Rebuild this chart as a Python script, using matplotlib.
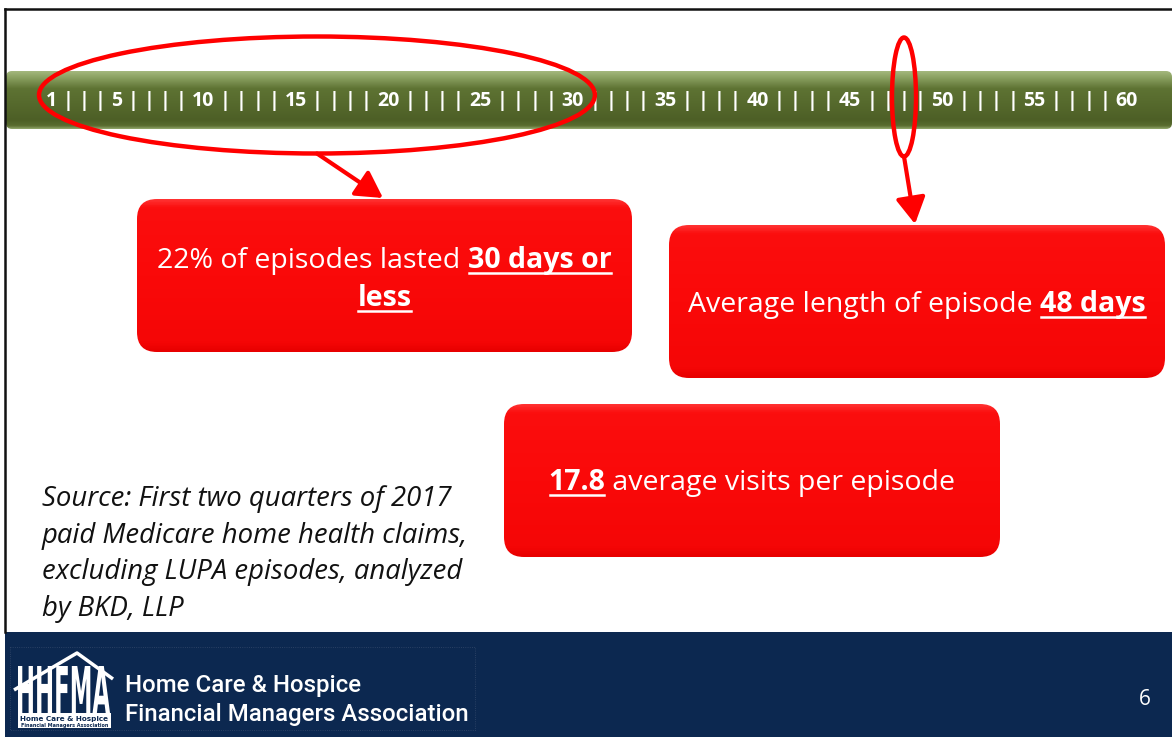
import numpy as np
import matplotlib.pyplot as plt
from matplotlib.patches import FancyBboxPatch, Ellipse, Rectangle, PathPatch
from matplotlib.colors import LinearSegmentedColormap
from matplotlib.textpath import TextPath
from matplotlib.font_manager import FontProperties
from matplotlib.transforms import Affine2D

W, H = 1172, 737

# Daten der Folie
days = list(range(1, 61))
tick_labels = [str(d) if d == 1 or d % 5 == 0 else "|" for d in days]

short_share = 22        # Anteil Episoden <= 30 Tage in %
short_days = 30
avg_length = 48         # durchschnittliche Episodenlänge in Tagen
avg_visits = 17.8       # durchschnittliche Besuche pro Episode

source_lines = ["Source: First two quarters of 2017",
                "paid Medicare home health claims,",
                "excluding LUPA episodes, analyzed",
                "by BKD, LLP"]
org_lines = ["Home Care & Hospice", "Financial Managers Association"]
page_no = "6"

FONT = "Open Sans"
NAVY = "#0c2850"

fig = plt.figure(figsize=(W / 100, H / 100), dpi=100)
ax = fig.add_axes([0, 0, 1, 1])
ax.axis("off")
renderer = fig.canvas.get_renderer()


def grad_box(x, y, w, h, stops, r, z):
    patch = FancyBboxPatch((x, y), w, h, boxstyle=f"round,pad=0,rounding_size={r}",
                           lw=0, fc="none", zorder=z)
    ax.add_patch(patch)
    cmap = LinearSegmentedColormap.from_list("c", stops)
    img = cmap(np.linspace(0, 1, 100))[:, None, :]
    im = ax.imshow(img, extent=(x, x + w, y + h, y), aspect="auto", zorder=z)
    im.set_clip_path(patch)


def rich_line(segments, cx, base, size):
    # segments: (text, bold) -> bold wird unterstrichen
    arts = []
    for s, b in segments:
        arts.append(ax.text(0, base, s, fontsize=size, color="white", family=FONT,
                            fontweight="bold" if b else "normal",
                            ha="left", va="baseline", zorder=6))
    widths = [a.get_window_extent(renderer).width for a in arts]
    x = cx - sum(widths) / 2
    for a, wd, (s, b) in zip(arts, widths, segments):
        a.set_x(x)
        if b:
            ax.plot([x + 1, x + wd - 1], [base + 4.5, base + 4.5], color="white", lw=1.8, zorder=6)
        x += wd


# Rahmen
ax.plot([5, W], [8.5, 8.5], color="#111111", lw=1.8, zorder=2)
ax.plot([5.3, 5.3], [8.5, 632], color="#111111", lw=1.8, zorder=2)

# grüner Balken
grad_box(6, 71, W - 6, 58, [(0, "#a3b77c"), (0.1, "#8ca263"), (0.3, "#5e7333"),
                            (0.85, "#4d5f26"), (0.95, "#5a6d30"), (1, "#8fa468")], 6, 1)

# Tages-Skala
tok_size = 14
toks = [ax.text(0, 106, t, fontsize=tok_size, color="white", family=FONT,
                fontweight="bold", ha="left", va="baseline", zorder=3) for t in tick_labels]
tw = [t.get_window_extent(renderer).width for t in toks]
x_start, x_end = 46, 1138
gap = (x_end - x_start - sum(tw)) / (len(toks) - 1)
lefts = []
x = x_start
for t, wd in zip(toks, tw):
    t.set_x(x)
    lefts.append(x)
    x += wd + gap
rights = [l + wd for l, wd in zip(lefts, tw)]

# Ellipsen
i1, i30, i48 = days.index(1), days.index(short_days), days.index(avg_length)
e1_l, e1_r = lefts[i1] - 7, rights[i30] + 11
e1_cx, e1_cy, e1_h = (e1_l + e1_r) / 2, 95, 117
ax.add_patch(Ellipse((e1_cx, e1_cy), e1_r - e1_l, e1_h, fill=False, ec="red", lw=3.2, zorder=4))
e2_cx, e2_cy, e2_h = (lefts[i48] + rights[i48]) / 2, 97, 119
ax.add_patch(Ellipse((e2_cx, e2_cy), 24, e2_h, fill=False, ec="red", lw=3.2, zorder=4))

# rote Boxen
red_stops = [(0, "#ff3030"), (0.05, "#fb0e0e"), (0.5, "#fa0909"), (0.94, "#f50606"), (1, "#e80000")]
b1 = (137, 199, 495, 153)
b2 = (669, 225, 496, 153)
b3 = (504, 404, 496, 153)
for bx in (b1, b2, b3):
    grad_box(*bx, red_stops, 20, 5)

# Pfeile
arrow = dict(arrowstyle="-|>,head_length=0.8,head_width=0.45", lw=3, color="red",
             shrinkA=0, shrinkB=0, mutation_scale=20)
ax.annotate("", xy=(b1[0] + 246, b1[1] - 1), xytext=(e1_cx, e1_cy + e1_h / 2),
            arrowprops=arrow, zorder=4)
ax.annotate("", xy=(b2[0] + 246, b2[1] - 1), xytext=(e2_cx, e2_cy + e2_h / 2),
            arrowprops=arrow, zorder=4)

box_size = 20.5
rich_line([(f"{short_share}% of episodes lasted ", False), (f"{short_days} days or", True)],
          b1[0] + b1[2] / 2, 268, box_size)
rich_line([("less", True)], b1[0] + b1[2] / 2, 306, box_size)
rich_line([("Average length of episode ", False), (f"{avg_length} days", True)],
          b2[0] + b2[2] / 2, 312, box_size)
rich_line([(f"{avg_visits}", True), (" average visits per episode", False)],
          b3[0] + b3[2] / 2, 490, box_size)

# Quelle
for i, line in enumerate(source_lines):
    ax.text(42, 506 + i * 36.7, line, fontsize=19.8, style="italic", family=FONT,
            color="#111111", ha="left", va="baseline")

# Fußzeile
ax.add_patch(Rectangle((5, 632), W - 5, H - 632, fc=NAVY, ec="none", zorder=1))
ax.add_patch(Rectangle((10, 647), 465, 83, fc="none", ec="#34496b", lw=0.6, ls=":", zorder=2))

# Logo
ax.plot([14, 77, 113], [690, 653, 679], color="white", lw=2.5, solid_capstyle="butt", zorder=3)
fp = FontProperties(family="DejaVu Sans", weight="bold")
tp = TextPath((0, 0), "HHFMA", size=10, prop=fp)
ext = tp.get_extents()
sx, sy = 92 / ext.width, 47 / ext.height
tr = Affine2D().translate(-ext.x0, -ext.y0).scale(sx, -sy).translate(18, 713)
ax.add_patch(PathPatch(tr.transform_path(tp), fc="white", ec="none", zorder=3))
ax.add_patch(Rectangle((18, 713), 93, 15, fc="white", ec="none", zorder=3))
ax.text(64.5, 720.5, "Home Care & Hospice", fontsize=5.2, fontweight="bold", family="DejaVu Sans",
        color=NAVY, ha="center", va="baseline", zorder=4)
ax.text(64.5, 727, "Financial Managers Association", fontsize=3.5, fontweight="bold",
        family="DejaVu Sans", color=NAVY, ha="center", va="baseline", zorder=4)

ax.text(125, 692, org_lines[0], fontsize=17.3, color="white", family="Roboto",
        fontweight="medium", ha="left", va="baseline", zorder=3)
ax.text(125, 721, org_lines[1], fontsize=17.3, color="white", family="Roboto",
        fontweight="medium", ha="left", va="baseline", zorder=3)
ax.text(1145, 705, page_no, fontsize=15, color="white", family=FONT,
        ha="center", va="baseline", zorder=3)

ax.set_xlim(0, W)
ax.set_ylim(H, 0)
fig.savefig("out.png", dpi=100, facecolor="white")
